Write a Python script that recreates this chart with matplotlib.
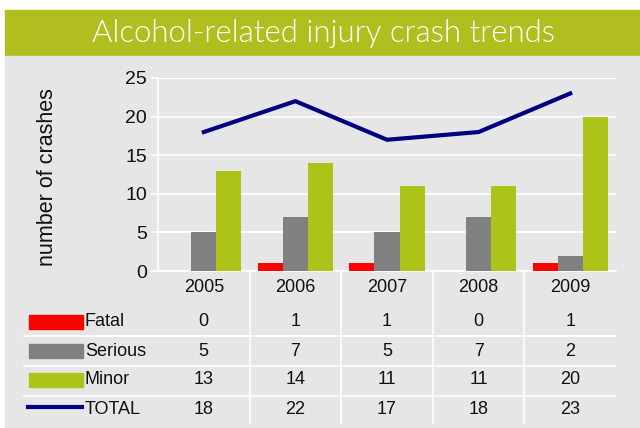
import numpy as np
import matplotlib.pyplot as plt
from matplotlib.patches import Rectangle
from matplotlib.lines import Line2D
from matplotlib.transforms import blended_transform_factory

years = ['2005', '2006', '2007', '2008', '2009']
fatal = [0, 1, 1, 0, 1]
serious = [5, 7, 5, 7, 2]
minor = [13, 14, 11, 11, 20]
total = [18, 22, 17, 18, 23]

series_names = ['Fatal', 'Serious', 'Minor', 'TOTAL']
colors = ['#ff0000', '#808080', '#adc31a', '#000080']

W, H = 640, 428
BG = '#e6e6e6'
TITLE_BG = '#b0bf1f'


def fx(px):
    return px / W


def fy(py):
    return 1 - py / H


fig = plt.figure(figsize=(6.4, 4.28), dpi=100)
fig.patch.set_facecolor('white')

# background panels
fig.patches.append(Rectangle((fx(5), fy(56)), 1 - fx(5), fy(10) - fy(56),
                             transform=fig.transFigure, color=TITLE_BG, zorder=-5))
fig.patches.append(Rectangle((fx(5), 0), 1 - fx(5), fy(56),
                             transform=fig.transFigure, color=BG, zorder=-5))
fig.text(fx(324), fy(34), 'Alcohol-related injury crash trends', color='white',
         fontsize=22.4, family='Lato', fontweight=300,
         ha='center', va='center')

ax = fig.add_axes([fx(158), fy(271), fx(616) - fx(158), fy(78) - fy(271)])
ax.set_zorder(2)
ax.set_facecolor(BG)
x = np.arange(len(years))
bw = 0.273
ax.bar(x - bw, fatal, bw, color=colors[0], zorder=3)
ax.bar(x, serious, bw, color=colors[1], zorder=3)
ax.bar(x + bw, minor, bw, color=colors[2], zorder=3)
ax.plot(x, total, color=colors[3], lw=3, zorder=4)

ax.set_xlim(-0.5, len(years) - 0.5)
ax.set_ylim(0, 25)
ax.set_yticks(range(0, 26, 5))
ax.set_xticks([])
ax.grid(axis='y', color='white', lw=1.2, zorder=1)
for s in ['top', 'right']:
    ax.spines[s].set_visible(False)
for s in ['left', 'bottom']:
    ax.spines[s].set_color('white')
    ax.spines[s].set_linewidth(1.2)
ax.tick_params(axis='y', colors='white', length=5, width=1.2,
               labelcolor='#111111', labelsize=14, pad=3)
for t in ax.get_yticklabels():
    t.set_family('Liberation Sans')
fig.text(fx(48), fy(177), 'number of crashes', rotation=90, fontsize=15.5,
         family='Liberation Sans', ha='center', va='center', color='#111111')

# data table under the chart
tr = blended_transform_factory(ax.transData, fig.transFigure)
row_y = [fy(322), fy(351), fy(380), fy(409)]
rows = [fatal, serious, minor, total]
for i, yr in enumerate(years):
    fig.text(i, fy(287), yr, transform=tr, ha='center', va='center',
             fontsize=13, family='Liberation Sans', color='#111111')
    for r, vals in enumerate(rows):
        fig.text(i, row_y[r], str(vals[i]), transform=tr, ha='center', va='center',
                 fontsize=13, family='Liberation Sans', color='#111111')

for b in np.arange(0.5, len(years) - 1, 1.0):
    fig.lines.append(Line2D([b, b], [fy(271), fy(423)], transform=tr,
                            color='white', lw=1.2))
for ly in [336, 366, 396]:
    fig.lines.append(Line2D([fx(24), fx(615)], [fy(ly), fy(ly)],
                            transform=fig.transFigure, color='white', lw=1.2))

for r, name in enumerate(series_names):
    if r < 3:
        fig.patches.append(Rectangle((fx(29), row_y[r] - 7 / H), fx(83) - fx(29), 14 / H,
                                     transform=fig.transFigure, color=colors[r]))
    else:
        fig.lines.append(Line2D([fx(28), fx(82)], [row_y[r] + 2 / H, row_y[r] + 2 / H],
                                transform=fig.transFigure, color=colors[r], lw=3))
    fig.text(fx(85), row_y[r], name, ha='left', va='center', fontsize=13,
             family='Liberation Sans', color='#111111')

fig.savefig('out.png', dpi=100)
